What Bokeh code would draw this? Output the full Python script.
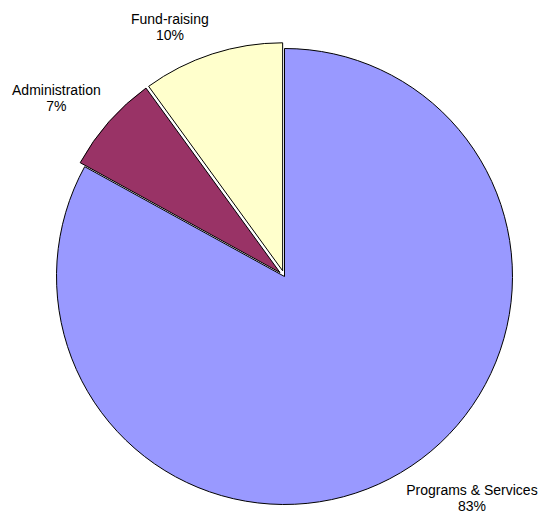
import math
from bokeh.plotting import figure
from bokeh.models import Range1d
from bokeh.core.properties import value
from bokeh.embed import file_html
from bokeh.resources import INLINE

categories = ["Programs & Services", "Administration", "Fund-raising"]
percents = [83, 7, 10]
colors = ["#9999FF", "#993366", "#FFFFCC"]
explode = [0, 6, 6]

W, H = 542, 519
p = figure(width=W, height=H, output_backend="svg", toolbar_location=None,
           x_range=Range1d(0, W), y_range=Range1d(0, H), min_border=0)
p.axis.visible = False
p.grid.visible = False
p.outline_line_color = None
p.background_fill_color = "white"

cx, cy = 284, H - 276
R = 228
font_px = 14
line_h = 16

# Arial widths (per 1000 em)
AW = {'P': 667, 'r': 333, 'o': 556, 'g': 556, 'a': 556, 'm': 833, 's': 500, ' ': 278,
      '&': 667, 'S': 667, 'e': 556, 'v': 500, 'i': 222, 'c': 500, 'A': 667, 'd': 556,
      'n': 556, 't': 278, 'F': 611, 'u': 556, '-': 333, '%': 889, '0': 556, '1': 556,
      '2': 556, '3': 556, '4': 556, '5': 556, '6': 556, '7': 556, '8': 556, '9': 556}

def tw(s):
    return sum(AW.get(ch, 556) for ch in s) * font_px / 1000.0

total = sum(percents)
acc = 0.0
for cat, pct, col, ex in zip(categories, percents, colors, explode):
    # clockwise from 12 o'clock
    a0 = acc / total * 2 * math.pi
    a1 = (acc + pct) / total * 2 * math.pi
    acc += pct
    mid = (a0 + a1) / 2
    dx, dy = math.sin(mid), math.cos(mid)
    ox, oy = cx + ex * dx, cy + ex * dy
    start = math.pi / 2 - a1
    end = math.pi / 2 - a0
    p.wedge(x=[ox], y=[oy], radius=R, start_angle=start, end_angle=end,
            fill_color=col, line_color="black", line_width=1)
    # label
    lr = R + 11
    ax, ay = ox + lr * dx, oy + lr * dy
    lines = [cat, f"{pct}%"]
    wmax = max(tw(s) for s in lines)
    lx = ax - wmax / 2 if dx < 0 else ax + wmax / 2
    if dy > 0:
        ys = [ay + line_h, ay]
        base = "bottom"
    else:
        ys = [ay, ay - line_h]
        base = "top"
    for s, yy in zip(lines, ys):
        p.text(x=[lx], y=[yy], text=[s], text_align="center", text_baseline=base,
               text_font=value("Liberation Sans"), text_font_size=f"{font_px}px",
               text_color="black")

open("out.html", "w").write(file_html(p, INLINE))
